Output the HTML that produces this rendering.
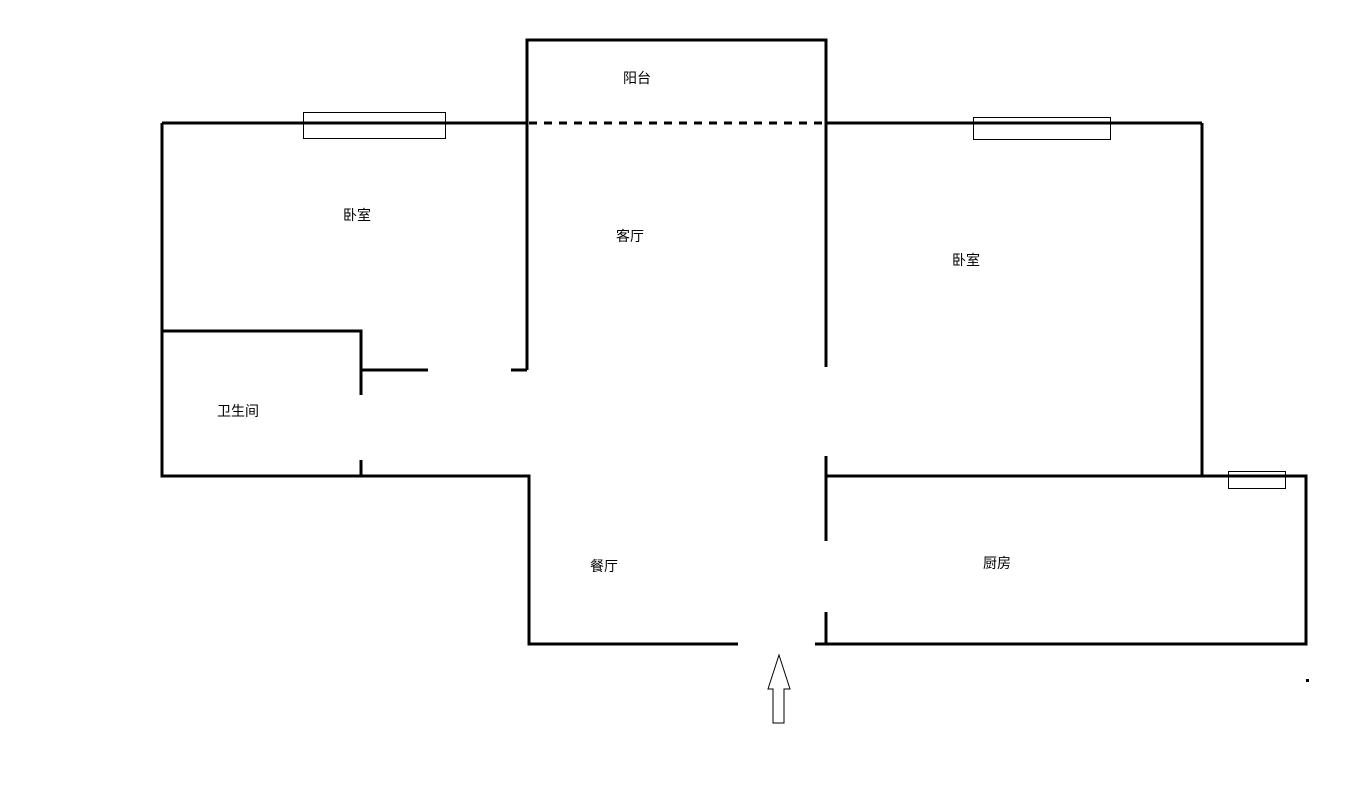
<!DOCTYPE html>
<html><head><meta charset="utf-8"><style>
html,body{margin:0;padding:0;background:#fff;}
svg{display:block;}
text{font-family:"Liberation Sans","Noto Sans CJK SC",sans-serif;font-size:14px;fill:#000;}
</style></head><body>
<svg width="1362" height="798" viewBox="0 0 1362 798" xmlns="http://www.w3.org/2000/svg">
<rect width="1362" height="798" fill="#fff"/>
<g stroke="#000" stroke-width="3" fill="none" stroke-linecap="butt">
<path d="M162 123H527 M826 123H1202"/>
<path d="M527 370V40H826V367"/>
<path d="M162 123V476H529V644H738 M815 644H1306V476H826 M826 456V541 M826 612V644"/>
<path d="M1202 123V476"/>
<path d="M162 331H361V395 M361 460V476 M361 370H428 M511 370H527"/>
<path d="M529 123H826" stroke-dasharray="8 7"/>
</g>
<g stroke="#000" stroke-width="1" fill="none">
<rect x="303.5" y="112.5" width="142" height="26"/>
<rect x="973.5" y="117.5" width="137" height="22"/>
<rect x="1228.5" y="471.5" width="57" height="17"/>
<path d="M779 655L790 689H784V723H773V689H768Z" fill="#fff"/>
</g>
<rect x="1306" y="679" width="3" height="3" fill="#000"/>
<text x="637" y="83" text-anchor="middle">阳台</text>
<text x="357" y="220" text-anchor="middle">卧室</text>
<text x="630" y="241" text-anchor="middle">客厅</text>
<text x="966" y="265" text-anchor="middle">卧室</text>
<text x="238" y="416" text-anchor="middle">卫生间</text>
<text x="604" y="571" text-anchor="middle">餐厅</text>
<text x="997" y="568" text-anchor="middle">厨房</text>
</svg>
</body></html>
